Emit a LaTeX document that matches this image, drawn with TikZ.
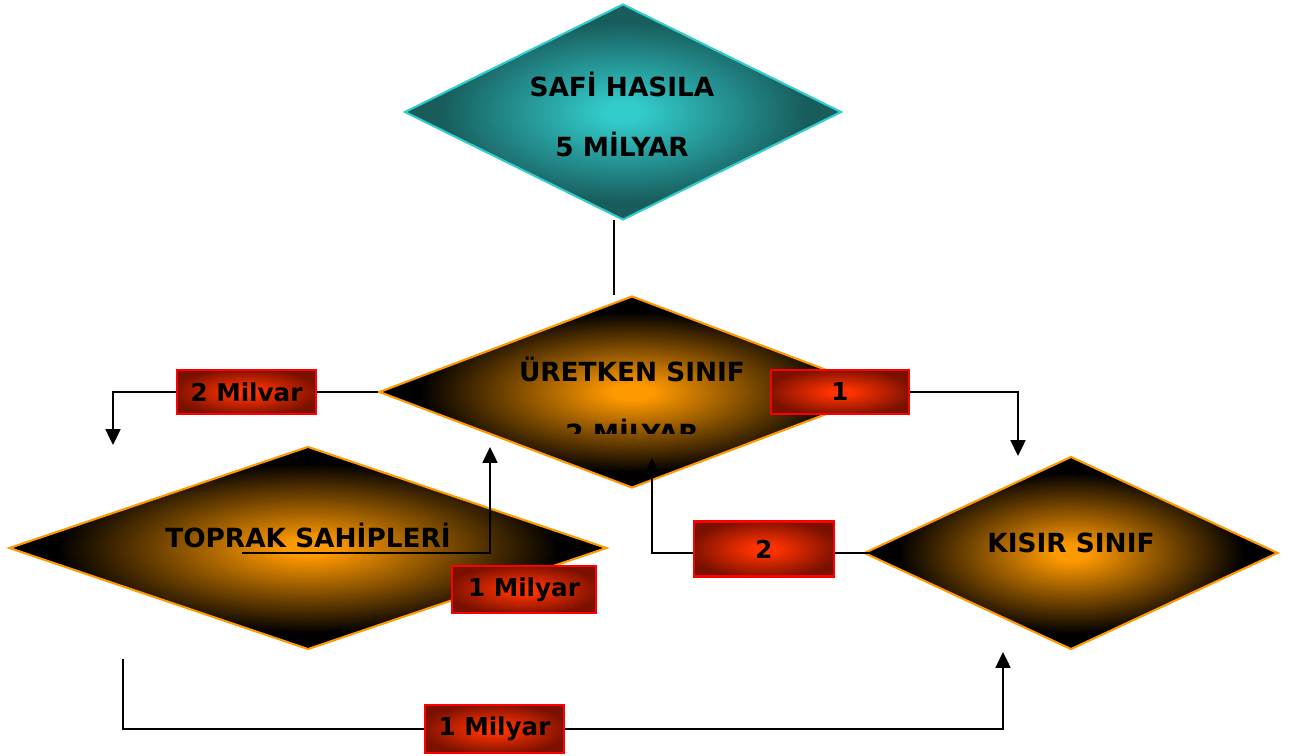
\documentclass[tikz,border=0pt]{standalone}
\usepackage{fontspec}
\setmainfont{DejaVu Sans}
\usetikzlibrary{shapes.geometric,arrows.meta}

\definecolor{turuncu}{RGB}{255,153,0}
\definecolor{camgobegi}{RGB}{51,204,204}
\definecolor{koyucam}{RGB}{24,92,92}
\definecolor{kirmizi}{RGB}{255,51,0}
\definecolor{koyukirmizi}{RGB}{122,16,0}

\pgfdeclareradialshading{turuncugolge}{\pgfpoint{0bp}{0bp}}{color(0bp)=(turuncu); color(2bp)=(turuncu); color(21bp)=(black); color(50bp)=(black)}
\pgfdeclareradialshading{camgolge}{\pgfpoint{0bp}{0bp}}{color(0bp)=(camgobegi); color(2bp)=(camgobegi); color(21bp)=(koyucam); color(50bp)=(koyucam)}
\pgfdeclareradialshading{kirmizigolge}{\pgfpoint{0bp}{0bp}}{color(0bp)=(kirmizi); color(4bp)=(kirmizi); color(27bp)=(koyukirmizi); color(50bp)=(koyukirmizi)}

\tikzset{
    sinif/.style={diamond, shading=turuncugolge, draw=turuncu, line width=1.2pt, inner sep=0pt},
    kutu/.style={rectangle, shading=kirmizigolge, draw=red, line width=1.2pt, inner sep=0pt,
        font=\bfseries\fontsize{14}{16}\selectfont},
    yazi/.style={anchor=base, font=\bfseries\fontsize{15}{18}\selectfont},
    cizgi/.style={line width=1.1pt},
    ok/.style={cizgi, -{Triangle[length=9pt,width=8.5pt]}}
}

\begin{document}
\begin{tikzpicture}[x=0.02cm, y=-0.02cm]
    \useasboundingbox (0,0) rectangle (1290,756);

    \node[diamond, shading=camgolge, draw=camgobegi, line width=1.2pt, inner sep=0pt,
        minimum width=8.74cm, minimum height=4.32cm] (safi) at (623,112) {};
    \node[sinif, minimum width=10.12cm, minimum height=3.84cm] (uretken) at (632,392) {};
    \node[sinif, minimum width=11.96cm, minimum height=4.06cm] (toprak) at (308,548) {};
    \node[sinif, minimum width=8.28cm, minimum height=3.86cm] (kisir) at (1071,553) {};

    \node[yazi] (safiUst) at (622,97) {SAFİ HASILA};
    \node[yazi] (safiAlt) at (622,157) {5 MİLYAR};
    \node[yazi] (uretkenUst) at (632,381) {ÜRETKEN SINIF};
    \begin{scope}
        \clip (500,300) rectangle (760,433);
        \node[yazi] (uretkenAlt) at (632,443) {2 MİLYAR};
    \end{scope}
    \node[yazi] (toprakYazi) at (308,547) {TOPRAK SAHİPLERİ};
    \node[yazi] (kisirYazi) at (1071,552) {KISIR SINIF};

    \coordinate (safiCikis) at (614,220);
    \coordinate (uretkenGiris) at (614,295);
    \coordinate (solOk) at (113,445);
    \coordinate (sagOk) at (1018,456);
    \coordinate (toprakCizgi) at (242,553);
    \coordinate (uretkenOk1) at (490,447);
    \coordinate (kisirCizgi) at (900,553);
    \coordinate (uretkenOk2) at (652,458);
    \coordinate (toprakAlt) at (123,659);
    \coordinate (kisirOk) at (1003,652);

    \node[kutu, minimum width=2.78cm, minimum height=0.88cm] (ikiMilvar) at (246.5,392) {2 Milvar};
    \node[kutu, minimum width=2.76cm, minimum height=0.88cm] (bir) at (840,392) {1};
    \node[kutu, minimum width=2.8cm, minimum height=1.1cm] (iki) at (764,549) {2};
    \node[kutu, minimum width=2.88cm, minimum height=0.94cm] (birMilyar) at (524,589.5) {1 Milyar};
    \node[kutu, minimum width=2.78cm, minimum height=0.96cm] (birMilyarAlt) at (494.5,729) {1 Milyar};

    \draw[cizgi] (safiCikis) -- (uretkenGiris);
    \draw[cizgi] (uretken.west) -- (ikiMilvar.east);
    \draw[ok] (ikiMilvar.west) -| (solOk);
    \draw[ok] (bir.east) -| (sagOk);
    \draw[ok] (toprakCizgi) -| (uretkenOk1);
    \draw[cizgi] (kisirCizgi) -- (kisirCizgi -| iki.east);
    \draw[ok] (kisirCizgi -| iki.west) -| (uretkenOk2);
    \draw[cizgi] (toprakAlt) |- (birMilyarAlt.west);
    \draw[ok] (birMilyarAlt.east) -| (kisirOk);
\end{tikzpicture}
\end{document}
